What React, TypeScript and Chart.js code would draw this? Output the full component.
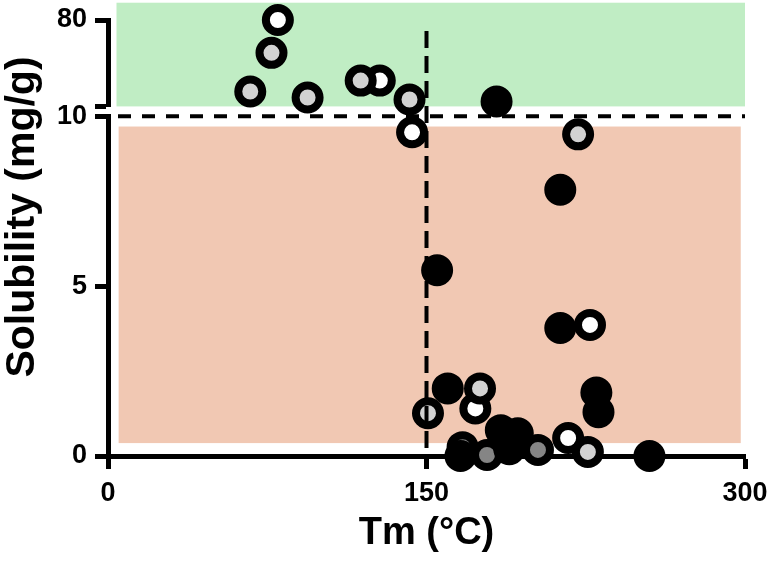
import React, { useEffect, useRef } from 'react';
import { Chart, registerables } from 'chart.js';

Chart.register(...registerables);

// ---- data ----
const xTickValues = [0, 150, 300];
const lowerTickValues = [0, 5, 10];
const upperTickValues = [10, 80];

const blackTm = [183, 213, 213, 155, 160, 230, 231, 185, 193, 255, 166, 189];
const blackSol = [14.0, 7.84, 3.77, 5.47, 1.99, 1.87, 1.29, 0.76, 0.67, 0.0, 0.0, 0.2];

const darkTm = [167, 178.5, 202.5];
const darkSol = [0.26, 0.03, 0.18];

const lightTm = [77, 67, 94, 119, 142, 221.4, 150.7, 175.2, 226];
const lightSol = [53.4, 22.1, 17.2, 30.9, 15.6, 9.47, 1.26, 1.99, 0.12];

const whiteTm = [80, 128, 143.2, 227, 173, 216.7];
const whiteSol = [80, 30.9, 9.53, 3.86, 1.4, 0.53];

// shaded zones: [xMin, xMax, yMin, yMax]
const greenZone = [4, 300, 10, 94];
const peachZone = [5, 298, 0.38, 9.7];
const tmThreshold = 150;
const tmLineTop = 71;
const solThreshold = 10;

const FONT = '"Liberation Sans", Arial, sans-serif';

function split(tm: number[], sol: number[]) {
  const up: { x: number; y: number }[] = [];
  const low: { x: number; y: number }[] = [];
  tm.forEach((t, i) => {
    if (sol[i] > solThreshold) up.push({ x: t, y: sol[i] });
    else low.push({ x: t, y: sol[i] });
  });
  return { up, low };
}

const groups = [
  { tm: blackTm, sol: blackSol, fill: '#000000' },
  { tm: darkTm, sol: darkSol, fill: '#858585' },
  { tm: lightTm, sol: lightSol, fill: '#d2d2d2' },
  { tm: whiteTm, sol: whiteSol, fill: '#ffffff' },
];

const decorPlugin = {
  id: 'decor',
  beforeDraw(chart: any) {
    const { ctx, scales } = chart;
    const x = scales.x;
    const yU = scales.yUp;
    const yL = scales.yLow;
    ctx.save();
    ctx.fillStyle = '#c0edc4';
    let x0 = x.getPixelForValue(greenZone[0]);
    let x1 = x.getPixelForValue(greenZone[1]);
    let y0 = yU.getPixelForValue(greenZone[3]);
    let y1 = yU.getPixelForValue(greenZone[2]);
    ctx.fillRect(x0, y0, x1 - x0, y1 - y0);
    ctx.fillStyle = '#f1c8b3';
    x0 = x.getPixelForValue(peachZone[0]);
    x1 = x.getPixelForValue(peachZone[1]);
    y0 = yL.getPixelForValue(peachZone[3]);
    y1 = yL.getPixelForValue(peachZone[2]);
    ctx.fillRect(x0, y0, x1 - x0, y1 - y0);
    ctx.restore();
  },
  afterDatasetsDraw(chart: any) {
    const { ctx, scales } = chart;
    const x = scales.x;
    const yU = scales.yUp;
    const yL = scales.yLow;
    ctx.save();
    ctx.strokeStyle = '#000';
    ctx.lineWidth = 4;
    // horizontal threshold
    ctx.setLineDash([13, 11]);
    const hy = yL.getPixelForValue(solThreshold);
    ctx.beginPath();
    ctx.moveTo(x.getPixelForValue(0) + 10, hy);
    ctx.lineTo(x.getPixelForValue(300), hy);
    ctx.stroke();
    // vertical threshold
    ctx.setLineDash([17, 8]);
    const vx = x.getPixelForValue(tmThreshold);
    ctx.beginPath();
    ctx.moveTo(vx, yU.getPixelForValue(tmLineTop));
    ctx.lineTo(vx, yL.getPixelForValue(0));
    ctx.stroke();
    ctx.restore();

    // y axis title
    ctx.save();
    ctx.translate(23, 217);
    ctx.rotate(-Math.PI / 2);
    ctx.font = `bold 41px ${FONT}`;
    ctx.fillStyle = '#000';
    ctx.textAlign = 'center';
    ctx.textBaseline = 'middle';
    ctx.fillText('Solubility (mg/g)', 0, 0);
    ctx.restore();
  },
};

export default function App() {
  const ref = useRef<HTMLCanvasElement>(null);

  useEffect(() => {
    if (!ref.current) return;
    const datasets: any[] = [];
    groups.forEach((g) => {
      const { up, low } = split(g.tm, g.sol);
      const base = {
        type: 'scatter',
        backgroundColor: g.fill,
        borderColor: '#000000',
        pointBackgroundColor: g.fill,
        pointBorderColor: '#000000',
        pointRadius: 12,
        pointHoverRadius: 12,
        pointBorderWidth: 8,
        clip: false,
        showLine: false,
      };
      datasets.push({ ...base, data: low, yAxisID: 'yLow', xAxisID: 'x' });
      datasets.push({ ...base, data: up, yAxisID: 'yUp', xAxisID: 'x' });
    });

    const tickFont = { family: FONT, size: 27, weight: 'bold' as const };
    const yGrid = {
      drawOnChartArea: false,
      drawTicks: true,
      tickLength: 13,
      tickWidth: 5,
      color: '#000',
    };
    const border = { display: true, width: 5, color: '#000' };
    const fixWidth = (s: any) => {
      s.width = 108;
      s.paddingTop = 0;
      s.paddingBottom = 0;
    };

    const chart = new Chart(ref.current, {
      type: 'scatter',
      data: { datasets },
      plugins: [decorPlugin],
      options: {
        animation: false,
        responsive: false,
        devicePixelRatio: 1,
        layout: { padding: { top: 17, right: 23, left: 0, bottom: 0 } },
        plugins: { legend: { display: false }, tooltip: { enabled: false } },
        scales: {
          yLow: {
            type: 'linear',
            position: 'left',
            stack: 'y',
            stackWeight: 342,
            min: 0,
            max: 10,
            afterBuildTicks: (s: any) => {
              s.ticks = lowerTickValues.map((v) => ({ value: v }));
            },
            afterFit: fixWidth,
            ticks: { font: tickFont, color: '#000', padding: 8 },
            grid: yGrid,
            border,
          },
          yGap: {
            type: 'linear',
            position: 'left',
            stack: 'y',
            stackWeight: 10,
            min: 0,
            max: 1,
            afterFit: fixWidth,
            ticks: { display: false },
            grid: { display: false },
            border: { display: false },
          },
          yUp: {
            type: 'linear',
            position: 'left',
            stack: 'y',
            stackWeight: 87,
            min: 10,
            max: 80,
            afterBuildTicks: (s: any) => {
              s.ticks = upperTickValues.map((v) => ({ value: v }));
            },
            afterFit: fixWidth,
            ticks: {
              font: tickFont,
              color: '#000',
              padding: 8,
              callback: (v: any) => (Number(v) === 80 ? String(v) : ''),
            },
            grid: yGrid,
            border,
          },
          x: {
            type: 'linear',
            position: 'bottom',
            min: 0,
            max: 300,
            afterBuildTicks: (s: any) => {
              s.ticks = xTickValues.map((v) => ({ value: v }));
            },
            afterFit: (s: any) => {
              s.height = 106;
              s.paddingLeft = 0;
              s.paddingRight = 0;
            },
            ticks: { font: tickFont, color: '#000', padding: 8, maxRotation: 0 },
            grid: yGrid,
            border,
            title: {
              display: true,
              text: 'Tm (°C)',
              color: '#000',
              font: { family: FONT, size: 38, weight: 'bold' },
              padding: { top: 0, bottom: 6 },
            },
          },
        },
      } as any,
    });
    return () => chart.destroy();
  }, []);

  return (
    <div style={{ position: 'absolute', left: 0, top: 0, width: 768, height: 562, background: '#fff' }}>
      <canvas ref={ref} width={768} height={562} style={{ width: 768, height: 562 }} />
    </div>
  );
}
